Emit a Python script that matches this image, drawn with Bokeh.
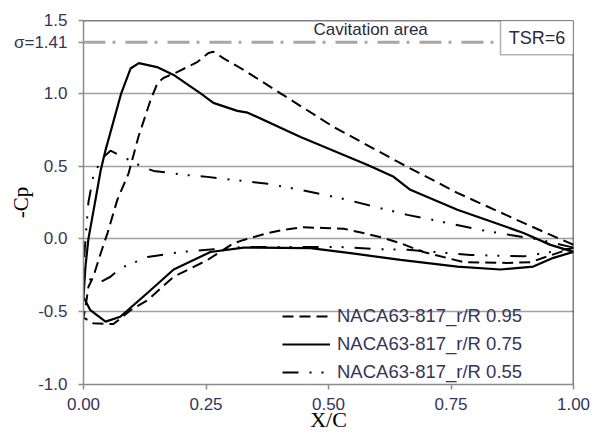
from bokeh.plotting import figure
from bokeh.models import Range1d, FixedTicker, Span, BoxAnnotation, Label, Legend, LegendItem
from bokeh.embed import file_html
from bokeh.resources import INLINE

# ---- data: -Cp along the chord, suction (upper) and pressure (lower) sides ----
x_up_95 = [0.0, 0.004, 0.01, 0.02, 0.035, 0.049, 0.069, 0.092, 0.112, 0.137, 0.151, 0.163, 0.192, 0.233,
           0.255, 0.265, 0.286, 0.327, 0.402, 0.51, 0.641, 0.763, 0.898, 0.967, 1.0]
cp_up_95 = [-0.54, -0.47, -0.33, -0.26, -0.10, 0.04, 0.268, 0.45, 0.70, 0.955, 1.07, 1.105, 1.147, 1.216,
            1.277, 1.285, 1.24, 1.16, 1.0, 0.77, 0.53, 0.316, 0.11, 0.007, -0.04]
x_lo_95 = [0.0, 0.02, 0.061, 0.096, 0.131, 0.184, 0.253, 0.306, 0.327, 0.376, 0.408, 0.449, 0.49, 0.531,
           0.571, 0.612, 0.647, 0.694, 0.776, 0.865, 0.912, 0.947, 1.0]
cp_lo_95 = [-0.54, -0.58, -0.585, -0.49, -0.42, -0.26, -0.145, -0.03, -0.007, 0.04, 0.062, 0.08, 0.075, 0.07,
            0.04, 0.007, -0.03, -0.09, -0.16, -0.165, -0.16, -0.12, -0.06]

x_up_75 = [0.0, 0.004, 0.010, 0.0245, 0.035, 0.045, 0.077, 0.096, 0.113, 0.150, 0.184, 0.218, 0.239, 0.265,
           0.314, 0.335, 0.443, 0.580, 0.633, 0.667, 0.763, 0.898, 0.953, 1.0]
cp_up_75 = [-0.40, -0.19, 0.0, 0.27, 0.47, 0.61, 1.0, 1.17, 1.207, 1.18, 1.126, 1.048, 1.0, 0.934,
            0.879, 0.867, 0.70, 0.508, 0.426, 0.337, 0.20, 0.041, -0.041, -0.089]
x_lo_75 = [0.0, 0.014, 0.045, 0.075, 0.131, 0.184, 0.259, 0.327, 0.463, 0.545, 0.647, 0.763, 0.851, 0.918,
           0.959, 1.0]
cp_lo_75 = [-0.40, -0.49, -0.568, -0.535, -0.37, -0.21, -0.09, -0.06, -0.063, -0.098, -0.144, -0.19, -0.21,
            -0.19, -0.13, -0.089]

x_up_55 = [0.0, 0.004, 0.01, 0.021, 0.042, 0.055, 0.082, 0.12, 0.143, 0.178, 0.204, 0.253, 0.306, 0.376,
           0.443, 0.524, 0.661, 0.714, 0.81, 0.871, 0.933, 1.0]
cp_up_55 = [-0.2, 0.0, 0.25, 0.45, 0.565, 0.606, 0.561, 0.495, 0.467, 0.453, 0.44, 0.426, 0.405, 0.378,
            0.337, 0.28, 0.165, 0.13, 0.062, 0.027, -0.007, -0.06]
x_lo_55 = [0.0, 0.014, 0.035, 0.055, 0.076, 0.131, 0.198, 0.253, 0.33, 0.52, 0.60, 0.661, 0.79, 0.898,
           0.953, 1.0]
cp_lo_55 = [-0.2, -0.28, -0.295, -0.26, -0.2, -0.124, -0.09, -0.075, -0.055, -0.055, -0.07, -0.075, -0.11,
            -0.12, -0.09, -0.06]

series_labels = ["NACA63-817_r/R 0.95", "NACA63-817_r/R 0.75", "NACA63-817_r/R 0.55"]
x_ticks = [0.0, 0.25, 0.5, 0.75, 1.0]
x_tick_labels = ["0.00", "0.25", "0.50", "0.75", "1.00"]
sigma_drawn = 1.35
y_ticks = [-1.0, -0.5, 0.0, 0.5, 1.0, sigma_drawn, 1.5]
y_tick_labels = ["-1.0", "-0.5", "0.0", "0.5", "1.0", "σ=1.41", "1.5"]
y_grid = [-0.5, 0.0, 0.5, 1.0]


def loop(xu, yu, xl, yl):
    return list(reversed(xu)) + xl[1:], list(reversed(yu)) + yl[1:]


TXT = "#35355a"
p = figure(width=603, height=435, output_backend="svg", toolbar_location=None,
           x_range=Range1d(0, 1), y_range=Range1d(-1.0, 1.5),
           min_border_left=83, min_border_right=30, min_border_top=20, min_border_bottom=51)
p.outline_line_color = None
p.background_fill_color = "white"
p.border_fill_color = "white"

p.xgrid.visible = False
p.ygrid.ticker = FixedTicker(ticks=y_grid)
p.ygrid.grid_line_color = "#a0a0a0"
p.ygrid.grid_line_width = 1.5

for ax in (p.xaxis[0], p.yaxis[0]):
    ax.axis_line_color = "#8c8c8c"
    ax.axis_line_width = 1.5
    ax.major_tick_line_color = "#8c8c8c"
    ax.major_tick_line_width = 1.5
    ax.major_tick_in = 0
    ax.major_tick_out = 5
    ax.minor_tick_line_color = None
    ax.major_label_text_font = "Liberation Sans"
    ax.major_label_text_font_size = "17px"
    ax.major_label_text_color = TXT
    ax.axis_label_text_font = "Liberation Serif"
    ax.axis_label_text_font_size = "22px"
    ax.axis_label_text_font_style = "normal"
    ax.axis_label_text_color = "black"

p.xaxis.ticker = FixedTicker(ticks=x_ticks)
p.xaxis.major_label_overrides = dict(zip(x_ticks, x_tick_labels))
p.xaxis.major_label_standoff = 8
p.xaxis.axis_label = "X/C"
p.xaxis.axis_label_standoff = -6

p.yaxis.ticker = FixedTicker(ticks=y_ticks)
p.yaxis.major_label_overrides = dict(zip(y_ticks, y_tick_labels))
p.yaxis.major_label_standoff = 11
p.yaxis.axis_label = "-Cp"
p.yaxis.axis_label_text_font_size = "21px"
p.yaxis.axis_label_text_align = "left"
p.yaxis.axis_label_standoff = -22

# borders top/right
p.add_layout(Span(location=1.5, dimension="width", line_color="black", line_width=1.5))
p.add_layout(Span(location=1.0, dimension="height", line_color="black", line_width=1.5))

# cavitation threshold
p.add_layout(Span(location=sigma_drawn, dimension="width", line_color="#a6a6a6", line_width=3,
                  line_dash="22 7 3 10"))
p.add_layout(Label(x=0.586, y=1.435, text="Cavitation area", text_align="center", text_baseline="middle",
                   text_font="Liberation Sans", text_font_size="17px", text_color="#2a2a3a"))
p.add_layout(BoxAnnotation(left=0.851, right=1.0, bottom=1.264, top=1.5, fill_color="white", fill_alpha=1,
                           line_color="black", line_width=1.5))
p.add_layout(Label(x=0.9255, y=1.382, text="TSR=6", text_align="center", text_baseline="middle",
                   text_font="Liberation Sans", text_font_size="18px", text_color="#2a2a3a"))

x95, y95 = loop(x_up_95, cp_up_95, x_lo_95, cp_lo_95)
x75, y75 = loop(x_up_75, cp_up_75, x_lo_75, cp_lo_75)
x55, y55 = loop(x_up_55, cp_up_55, x_lo_55, cp_lo_55)
r95 = p.line(x95, y95, line_color="black", line_width=2, line_dash="11 6")
r75 = p.line(x75, y75, line_color="black", line_width=2.2)
r55 = p.line(x55, y55, line_color="black", line_width=2, line_dash="16 11 2 10 2 11")

legend = Legend(items=[LegendItem(label=series_labels[0], renderers=[r95]),
                       LegendItem(label=series_labels[1], renderers=[r75]),
                       LegendItem(label=series_labels[2], renderers=[r55])],
                location=(199, 1), padding=0, margin=0, spacing=6, glyph_width=48, glyph_height=20,
                label_height=20, label_standoff=7, background_fill_alpha=0, border_line_color=None,
                label_text_font="Liberation Sans", label_text_font_size="18.5px", label_text_color=TXT)
p.add_layout(legend)

open("out.html", "w").write(file_html(p, INLINE))
